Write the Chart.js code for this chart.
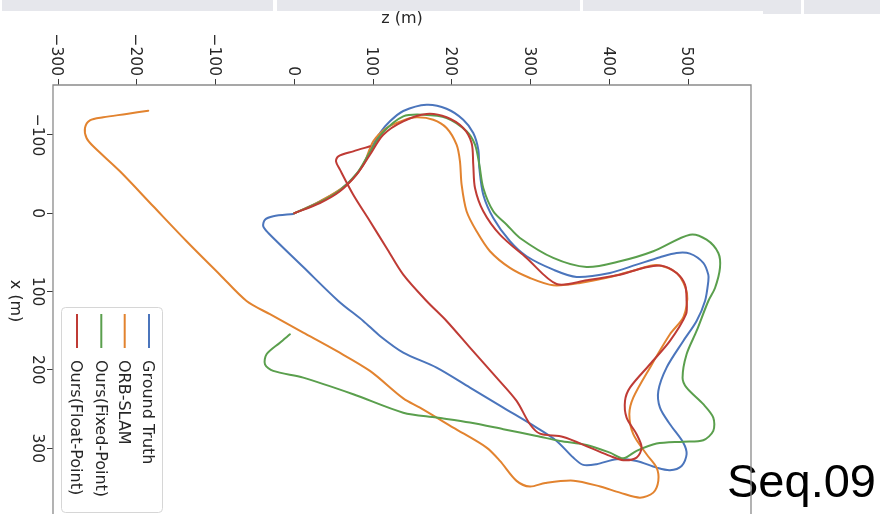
<!DOCTYPE html>
<html>
<head>
<meta charset="utf-8">
<script src="https://cdn.jsdelivr.net/npm/chart.js@4.4.1/dist/chart.umd.min.js"></script>
<style>
  html, body { margin: 0; padding: 0; background: #fff; }
  #wrap { width: 880px; height: 514px; }
</style>
</head>
<body>
<div id="wrap"><canvas id="c" width="880" height="514"></canvas></div>
<script>
// KITTI sequence 09 trajectories, top view: z (m) across, x (m) down.
const seriesNames = ['Ground Truth', 'ORB-SLAM', 'Ours(Fixed-Point)', 'Ours(Float-Point)'];
const seriesColors = ['#4b75bc', '#e2832f', '#5a9f4d', '#bf3b35'];

const zTicks = [-300, -200, -100, 0, 100, 200, 300, 400, 500];
const xTicks = [-100, 0, 100, 200, 300];

const gtZ = [0, 15.6, 36.8, 58.0, 74.9, 87.6, 98.2, 108.8, 121.5, 138.4, 168.0, 193.4, 214.6, 227.3, 233.7, 235.0, 240.0, 252.7, 273.9, 295.0, 328.9, 358.5, 400.9, 434.7, 464.4, 485.5, 502.5, 519.4, 525.8, 525.8, 521.6, 510.9, 494.0, 472.8, 462.3, 464.4, 477.1, 494.0, 498.2, 491.9, 477.1, 460.1, 434.7, 409.3, 383.9, 367.0, 354.3, 333.1, 307.7, 265.4, 223.1, 180.7, 138.4, 108.8, 87.6, 55.9, 11.4, -33.0, -39.4, -37.2, -26.7, -1.3];
const gtX = [0, -6.8, -17.4, -30.1, -45.1, -62.0, -83.4, -102.5, -117.4, -130.6, -138.6, -133.5, -119.5, -102.5, -81.2, -57.8, -23.7, 6.0, 35.7, 54.9, 72.0, 81.3, 76.2, 65.6, 56.2, 50.7, 51.6, 63.4, 78.4, 86.8, 112.0, 137.5, 163.1, 197.1, 226.9, 248.2, 269.4, 292.9, 307.7, 322.6, 328.1, 324.8, 316.2, 314.0, 320.4, 321.3, 312.0, 290.7, 273.7, 248.2, 222.6, 197.1, 177.9, 156.6, 137.5, 111.9, 68.6, 25.1, 16.6, 8.2, 3.8, 0.9];

const orbZ = [0, 32.6, 66.4, 87.6, 100.3, 117.2, 138.4, 155.3, 176.5, 193.4, 206.1, 210.4, 212.5, 218.8, 231.5, 248.5, 273.9, 299.3, 328.9, 362.8, 405.1, 434.7, 460.4, 486.0, 498.7, 494.4, 477.1, 451.7, 430.5, 425.5, 430.5, 447.4, 460.1, 462.3, 455.9, 439.0, 413.6, 388.6, 354.7, 318.8, 299.3, 282.3, 261.2, 244.2, 201.9, 159.6, 138.4, 96.1, 53.7, 11.4, -30.9, -60.6, -94.4, -136.8, -179.1, -221.4, -255.3, -263.8, -265.8, -259.5, -242.6, -213.0, -185.4];
const orbX = [0, -15.3, -36.5, -62.0, -91.9, -108.9, -118.7, -122.6, -119.5, -108.9, -87.6, -66.4, -36.5, -2.6, 23.0, 48.5, 69.8, 82.6, 91.9, 89.0, 80.4, 72.0, 66.0, 76.6, 102.1, 132.0, 154.5, 197.1, 235.4, 256.6, 282.1, 307.7, 324.8, 341.7, 356.7, 363.1, 356.7, 349.0, 341.4, 344.3, 349.0, 341.7, 316.2, 299.2, 273.7, 248.2, 236.4, 201.3, 175.8, 152.4, 128.9, 112.0, 78.4, 35.7, -8.9, -53.6, -85.5, -96.1, -108.9, -118.7, -122.6, -126.8, -131.0];

const fixedZ = [0, 33.0, 58.4, 80.0, 95.3, 111.8, 138.4, 163.8, 193.4, 218.8, 229.5, 235.0, 240.0, 252.7, 270.1, 286.6, 328.9, 371.2, 413.6, 455.9, 502.5, 523.6, 538.5, 540.6, 534.3, 525.8, 510.9, 498.2, 493.1, 498.2, 519.4, 532.1, 532.1, 519.4, 494.0, 460.1, 434.7, 417.8, 400.9, 371.2, 337.4, 307.7, 265.4, 223.1, 180.7, 138.4, 74.9, 11.4, -26.7, -37.2, -35.2, -18.2, -5.5];
const fixedX = [0, -14.4, -29.7, -51.5, -77.0, -102.5, -123.8, -125.9, -121.7, -104.7, -87.6, -62.0, -32.3, -2.6, 14.9, 31.5, 57.0, 68.6, 61.3, 48.5, 27.3, 33.7, 50.7, 69.8, 95.4, 112.0, 150.3, 180.0, 209.9, 222.6, 243.8, 260.9, 277.9, 289.8, 291.6, 294.1, 303.4, 312.8, 305.6, 295.8, 290.7, 284.3, 275.7, 267.3, 260.9, 254.6, 231.1, 209.9, 201.3, 192.8, 180.0, 165.2, 154.5];

const floatZ = [0, 32.6, 58.0, 79.1, 96.1, 113.0, 138.4, 168.0, 193.4, 214.6, 225.2, 227.3, 229.5, 240.0, 261.2, 295.0, 333.1, 371.2, 413.6, 443.2, 466.5, 485.5, 496.2, 498.2, 497.5, 477.1, 451.7, 426.3, 420.0, 422.0, 434.7, 441.1, 434.7, 417.8, 400.9, 375.5, 341.6, 312.0, 299.3, 282.3, 256.9, 223.1, 193.4, 168.0, 138.4, 117.2, 96.1, 74.9, 58.0, 53.0, 55.9, 74.9, 96.1];
const floatX = [0, -13.1, -28.1, -49.3, -74.8, -100.3, -117.4, -126.8, -122.6, -108.9, -89.7, -62.0, -32.3, -2.6, 27.3, 57.1, 90.3, 85.5, 78.4, 69.8, 66.9, 76.2, 91.1, 112.0, 128.9, 163.0, 192.8, 222.6, 239.6, 260.9, 282.1, 299.2, 312.0, 315.3, 309.8, 299.2, 285.6, 281.4, 269.4, 239.6, 209.9, 171.6, 137.5, 112.0, 78.4, 44.3, 10.2, -23.7, -55.7, -66.4, -72.8, -79.1, -85.5];

const seriesZ = [gtZ, orbZ, fixedZ, floatZ];
const seriesX = [gtX, orbX, fixedX, floatX];

const toPoints = (zs, xs) => zs.map((z, i) => ({ x: z, y: xs[i] }));
const fmt = v => (v < 0 ? '\u2212' + Math.abs(v) : String(v));

const TEXT = '#262626';
const FONT = "'DejaVu Sans', sans-serif";

// page chrome strip along the top edge
function drawTabs(ctx) {
  ctx.fillStyle = '#e6e7ec';
  ctx.fillRect(2, 0, 271, 11);
  ctx.fillRect(277, 0, 303, 11);
  ctx.fillRect(583, 0, 218, 11);
  ctx.fillRect(763, 0, 38, 14);
  ctx.fillRect(804, 0, 76, 14);
}

function rotatedText(ctx, str, x, y, align, dy) {
  ctx.save();
  ctx.translate(x, y);
  ctx.rotate(Math.PI / 2);
  ctx.textAlign = align;
  ctx.textBaseline = 'alphabetic';
  ctx.fillText(str, 0, dy);
  ctx.restore();
}

const decor = {
  id: 'decor',
  beforeDraw(chart) {
    const ctx = chart.ctx;
    ctx.save();
    ctx.fillStyle = '#ffffff';
    ctx.fillRect(0, 0, chart.width, chart.height);
    drawTabs(ctx);
    ctx.restore();
  },
  afterDraw(chart) {
    const ctx = chart.ctx;
    const xs = chart.scales.x;
    const ys = chart.scales.y;
    const a = chart.chartArea;
    ctx.save();

    // tick labels
    ctx.fillStyle = TEXT;
    ctx.font = '15.5px ' + FONT;
    const capT = 15.5 * 0.729;
    zTicks.forEach(v => {
      rotatedText(ctx, fmt(v), xs.getPixelForValue(v), a.top - 9, 'right', capT / 2);
    });
    xTicks.forEach(v => {
      rotatedText(ctx, fmt(v), a.left - 9, ys.getPixelForValue(v), 'center', capT);
    });

    // axis titles
    ctx.font = '16px ' + FONT;
    ctx.textAlign = 'center';
    ctx.textBaseline = 'alphabetic';
    ctx.fillText('z (m)', (a.left + a.right) / 2, 23);
    rotatedText(ctx, 'x (m)', 23.5, 301, 'center', 12.2);

    // legend
    const bx = 61, by = 307, bw = 101, bh = 205;
    ctx.beginPath();
    ctx.roundRect(bx + 0.5, by + 0.5, bw, bh, 4);
    ctx.fillStyle = 'rgba(255,255,255,0.85)';
    ctx.fill();
    ctx.strokeStyle = '#d6d6d6';
    ctx.lineWidth = 1;
    ctx.stroke();
    const colX = [149, 124.7, 101.3, 77];
    seriesNames.forEach((name, i) => {
      ctx.strokeStyle = seriesColors[i];
      ctx.lineWidth = 2;
      ctx.beginPath();
      ctx.moveTo(colX[i], 314);
      ctx.lineTo(colX[i], 348);
      ctx.stroke();
      ctx.fillStyle = TEXT;
      ctx.font = '16px ' + FONT;
      rotatedText(ctx, name, colX[i], 360, 'left', 5.8);
    });

    // caption
    ctx.fillStyle = '#000';
    ctx.font = "47px 'Liberation Sans', Arial, sans-serif";
    ctx.textAlign = 'left';
    ctx.fillText('Seq.09', 727, 497);

    // axes frame
    ctx.strokeStyle = '#8a8a8a';
    ctx.lineWidth = 1.3;
    ctx.beginPath();
    ctx.moveTo(a.left, a.bottom + 2);
    ctx.lineTo(a.left, a.top);
    ctx.lineTo(a.right, a.top);
    ctx.lineTo(a.right, a.bottom + 2);
    ctx.stroke();
    ctx.restore();
  }
};

const datasets = seriesNames.map((name, i) => ({
  label: name,
  data: toPoints(seriesZ[i], seriesX[i]),
  showLine: true,
  borderColor: seriesColors[i],
  backgroundColor: seriesColors[i],
  borderWidth: 2,
  borderCapStyle: 'round',
  borderJoinStyle: 'round',
  pointRadius: 0,
  pointHoverRadius: 0,
  tension: 0.3,
  fill: false,
  order: seriesNames.length - i
}));

new Chart(document.getElementById('c'), {
  type: 'scatter',
  data: { datasets },
  options: {
    responsive: false,
    animation: false,
    devicePixelRatio: 1,
    layout: { padding: { left: 0, top: 0, right: 129, bottom: 0 } },
    plugins: { legend: { display: false }, tooltip: { enabled: false } },
    events: [],
    scales: {
      x: {
        type: 'linear',
        position: 'top',
        min: -306.4,
        max: 580,
        afterBuildTicks: s => { s.ticks = zTicks.map(v => ({ value: v })); },
        afterFit: s => { s.height = 85; },
        ticks: { display: false },
        border: { display: false },
        grid: { drawOnChartArea: false, drawTicks: true, tickLength: 6, color: '#3a3a3a', lineWidth: 1 }
      },
      y: {
        type: 'linear',
        position: 'left',
        reverse: true,
        min: -163.8,
        max: 384,
        afterBuildTicks: s => { s.ticks = xTicks.map(v => ({ value: v })); },
        afterFit: s => { s.width = 53; },
        ticks: { display: false },
        border: { display: false },
        grid: { drawOnChartArea: false, drawTicks: true, tickLength: 6, color: '#3a3a3a', lineWidth: 1 }
      }
    }
  },
  plugins: [decor]
});
</script>
</body>
</html>
